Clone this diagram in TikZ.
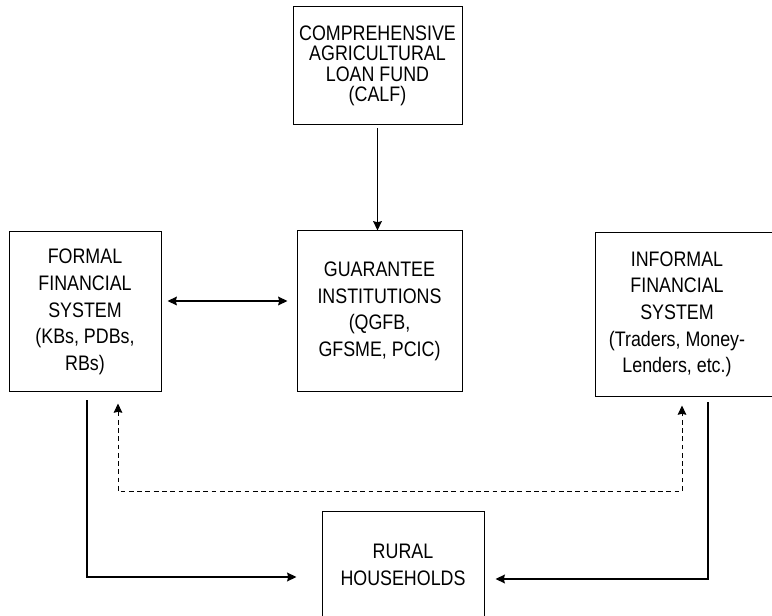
\documentclass[tikz,border=0pt]{standalone}
\usepackage{fontspec}
\setmainfont{Liberation Sans}[FakeStretch=0.85]
\usepackage{tikz}
\usetikzlibrary{arrows.meta,calc}

\tikzset{
  box/.style={draw, line width=0.75pt, inner sep=0pt, align=center, font=\fontsize{15.75}{20}\selectfont},
  flow/.style={line width=1.1pt, -{Stealth[length=7pt,width=6.5pt,inset=0.8pt]}},
  feedback/.style={line width=0.75pt, dash pattern=on 3.6pt off 2.6pt, {Stealth[length=7pt,width=6.5pt,inset=0.8pt]}-{Stealth[length=7pt,width=6.5pt,inset=0.8pt]}}
}

\begin{document}
\begin{tikzpicture}[x=0.75pt,y=0.75pt,yscale=-1,xscale=1]

\useasboundingbox (0,0) rectangle (772,616);
\clip (0,0) rectangle (772,616);

\node [box, minimum width=126.75pt, minimum height=88.5pt, font=\fontsize{15.75}{15.3}\selectfont] (calf) at (377.5,66) {COMPREHENSIVE\\AGRICULTURAL\\LOAN FUND\\(CALF)};
\node [box, minimum width=123.75pt, minimum height=120.75pt] (guar) at (379.5,311.5) {GUARANTEE\\INSTITUTIONS\\(QGFB,\\GFSME, PCIC)};
\node [box, minimum width=114pt, minimum height=120pt] (formal) at (85,312) {FORMAL\\FINANCIAL\\SYSTEM\\(KBs, PDBs,\\RBs)};
\node [box, draw=none, minimum width=121.5pt, minimum height=122.25pt] (informal) at (677,314.5) {INFORMAL\\FINANCIAL\\SYSTEM\\(Traders, Money-\\Lenders, etc.)};
\draw [line width=0.75pt] (informal.north west) rectangle ($(informal.south east)+(40,0)$);
\node [box, minimum width=121.5pt, minimum height=79.5pt] (rural) at (403,565) {RURAL\\HOUSEHOLDS};

\draw [flow] ($(calf.south)+(0,3)$) -- (guar.north -| calf.south);
\draw [flow, {Stealth[length=7pt,width=6.5pt,inset=0.8pt]}-{Stealth[length=7pt,width=6.5pt,inset=0.8pt]}] ($(formal.east)+(6,-11)$) -- ($(guar.west)+(-9,-10.5)$);
\draw [flow, line width=1.3pt] ($(formal.south)+(2,8)$) |- ($(rural.west)+(-25,12)$);
\draw [flow, line width=1.3pt] ($(informal.south)+(31,6)$) |- ($(rural.east)+(11,14)$);
\draw [feedback] ($(formal.south)+(33,11)$) -- ++(0,88) -| ($(informal.south)+(5,9)$);

\end{tikzpicture}
\end{document}
